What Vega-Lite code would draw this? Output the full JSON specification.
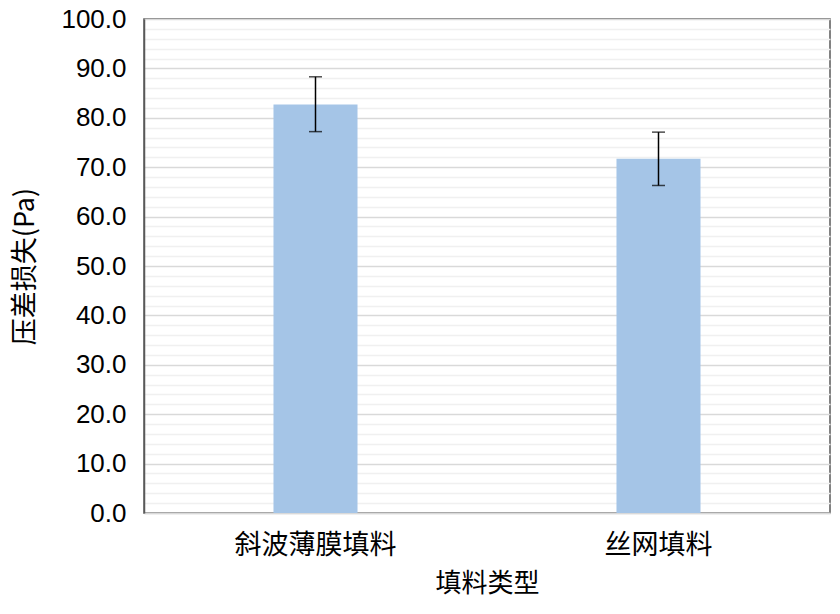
{
  "$schema": "https://vega.github.io/schema/vega-lite/v6.json",
  "autosize": {"type": "none"},
  "width": 686,
  "height": 494,
  "padding": {"left": 144, "top": 19, "right": 10, "bottom": 101},
  "background": "white",
  "config": {
    "view": {"stroke": "#595959", "strokeWidth": 1.5},
    "font": "Liberation Sans, Noto Sans CJK SC"
  },
  "data": {
    "values": [
      {"type": "斜波薄膜填料", "value": 82.7, "lo": 77.2, "hi": 88.3},
      {"type": "丝网填料", "value": 71.7, "lo": 66.3, "hi": 77.1}
    ]
  },
  "encoding": {
    "x": {
      "field": "type",
      "type": "nominal",
      "sort": null,
      "scale": {"paddingInner": 0.755, "paddingOuter": 0.3775},
      "axis": {
        "title": "填料类型",
        "titleFont": "Noto Sans CJK SC",
        "titleFontSize": 26,
        "titleFontWeight": "normal",
        "titleColor": "#000",
        "titlePadding": 12,
        "labelAngle": 0,
        "labelFont": "Noto Sans CJK SC",
        "labelFontSize": 27,
        "labelColor": "#000",
        "labelPadding": 19,
        "ticks": false,
        "domainColor": "#d9d9d9",
        "domainWidth": 1.5,
        "grid": false
      }
    }
  },
  "layer": [
    {
      "mark": {"type": "bar", "color": "#a5c5e7"},
      "encoding": {
        "y": {
          "field": "value",
          "type": "quantitative",
          "scale": {"domain": [0, 100], "nice": false},
          "axis": {
            "title": "压差损失(Pa)",
            "titleFont": "Noto Sans CJK SC",
            "titleFontSize": 27,
            "titleFontWeight": "normal",
            "titleColor": "#000",
            "titlePadding": 21,
            "values": [0,2,4,6,8,10,12,14,16,18,20,22,24,26,28,30,32,34,36,38,40,42,44,46,48,50,52,54,56,58,60,62,64,66,68,70,72,74,76,78,80,82,84,86,88,90,92,94,96,98,100],
            "tickCount": 200,
            "labelExpr": "datum.value % 10 === 0 ? format(datum.value, '.1f') : ''",
            "labelOverlap": false,
            "labelFont": "Liberation Sans",
            "labelFontSize": 26,
            "labelColor": "#000",
            "labelPadding": 18,
            "ticks": false,
            "domainColor": "#595959",
            "domainWidth": 1.5,
            "grid": true,
            "gridColor": {"condition": {"test": "datum.value % 10 === 0", "value": "#d9d9d9"}, "value": "#f0f0f0"},
            "gridWidth": 1.5
          }
        }
      }
    },
    {
      "mark": {"type": "rule", "color": "#000", "strokeWidth": 1.5},
      "encoding": {
        "y": {"field": "lo", "type": "quantitative"},
        "y2": {"field": "hi"}
      }
    },
    {
      "mark": {"type": "tick", "color": "#000", "size": 13, "thickness": 1.5},
      "encoding": {"y": {"field": "lo", "type": "quantitative"}}
    },
    {
      "mark": {"type": "tick", "color": "#000", "size": 13, "thickness": 1.5},
      "encoding": {"y": {"field": "hi", "type": "quantitative"}}
    }
  ]
}
